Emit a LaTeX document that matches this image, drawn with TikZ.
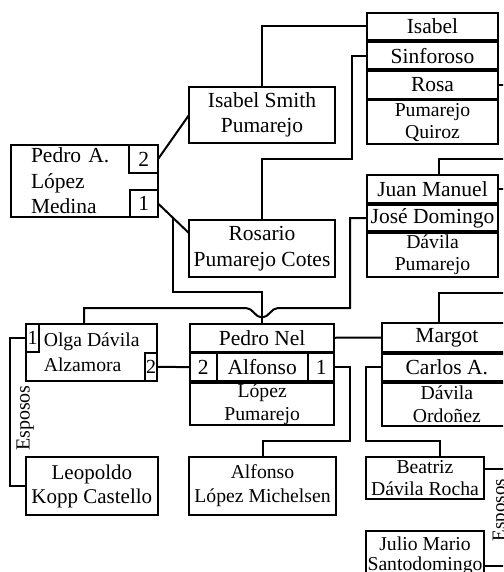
\documentclass[tikz,border=0pt]{standalone}
\usepackage{fontspec}
\setmainfont{Liberation Serif}
\usetikzlibrary{calc}
\newcommand\bigtxt{\fontsize{21.5}{25.5}\selectfont}
\newcommand\smalltxt{\fontsize{19.7}{22}\selectfont}

\begin{document}
\begin{tikzpicture}[x=1pt,y=-1pt,
  box/.style={draw, line width=2pt, inner sep=0pt, outer sep=0pt,
              anchor=north west, align=center, font=\bigtxt},
  sbox/.style={box, font=\smalltxt},
  conn/.style={line width=2pt},
  esp/.style={rotate=90, anchor=base, inner sep=0pt}]

\useasboundingbox (0,0) rectangle (503,572);
\fill[white] (0,0) rectangle (503,572);
\clip (0,0) rectangle (503,572);

% --- Pedro A. Lopez and his two wives
\node[box, minimum width=147pt, minimum height=72pt, text width=107pt,
      inner xsep=20pt, align=left] (pa) at (11,145) {Pedro A.\\López\\Medina};
\node[box, minimum width=28.7pt, minimum height=28.3pt] (pa2) at (129.3,145) {2};
\node[box, minimum width=28.3pt, minimum height=27pt] (pa1) at (129.7,190) {1};
\node[box, minimum width=146pt, minimum height=56pt] (ism) at (189,87) {Isabel Smith\\Pumarejo};
\node[box, minimum width=146pt, minimum height=57pt] (ros) at (189,220) {Rosario\\Pumarejo Cotes};

% --- Pumarejo Quiroz siblings
\node[box, minimum width=131.6pt, minimum height=27.5pt] (isa) at (366.7,12.7) {Isabel};
\node[box, minimum width=131.6pt, minimum height=27.9pt] (sin) at (366.7,41.6) {Sinforoso};
\node[box, minimum width=131.6pt, minimum height=27.7pt] (rosa) at (366.7,71) {Rosa};
\node[sbox, minimum width=131.6pt, minimum height=43.8pt] (pq) at (366.7,100.2) {Pumarejo\\Quiroz};

% --- Davila Pumarejo siblings
\node[box, minimum width=131.6pt, minimum height=28pt] (jm) at (366.7,175) {Juan Manuel};
\node[box, minimum width=131.6pt, minimum height=26.6pt] (jd) at (366.7,204.7) {José Domingo};
\node[sbox, minimum width=131.6pt, minimum height=44.3pt] (dp) at (366.7,233) {Dávila\\Pumarejo};

% --- Lopez Pumarejo siblings
\node[box, minimum width=144.3pt, minimum height=27.5pt] (pn) at (190,324) {Pedro Nel};
\node[box, minimum width=144.3pt, minimum height=27.8pt] (alf) at (190,353.2) {Alfonso};
\node[box, minimum width=26.7pt, minimum height=27.8pt] (a2) at (190,353.2) {2};
\node[box, minimum width=26pt, minimum height=27.8pt] (a1) at (308.3,353.2) {1};
\node[sbox, minimum width=144.3pt, minimum height=42.3pt, font=\fontsize{19.7}{23}\selectfont]
     (lp) at (190,382.7) {López\\Pumarejo};

% --- Davila Ordonez siblings
\node[box, minimum width=130.3pt, minimum height=28.7pt] (mg) at (381.7,323.3) {Margot};
\node[box, minimum width=130.3pt, minimum height=27.5pt] (ca) at (381.7,353.7) {Carlos A.};
\node[sbox, minimum width=130.3pt, minimum height=43.1pt, font=\fontsize{19.7}{23}\selectfont]
     (dor) at (381.7,382.9) {Dávila\\Ordoñez};

% --- Olga Davila and her husbands
\node[sbox, minimum width=131.3pt, minimum height=57pt, align=left,
      font=\fontsize{19.7}{25}\selectfont] (olga) at (26,324) {Olga Dávila\\Alzamora};
\node[box, minimum width=13.3pt, minimum height=28.3pt, font=\fontsize{20}{24}\selectfont]
     (o1) at (26,324) {1};
\node[box, minimum width=12.3pt, minimum height=28.3pt, font=\fontsize{20}{24}\selectfont]
     (o2) at (145,352.7) {2};
\node[box, minimum width=131.7pt, minimum height=57.7pt, font=\fontsize{21}{24.3}\selectfont]
     (leo) at (26,457.3) {Leopoldo\\Kopp Castello};

% --- next generation
\node[sbox, minimum width=147pt, minimum height=57.7pt, font=\fontsize{19.7}{24}\selectfont]
     (alm) at (189,457.3) {Alfonso\\López Michelsen};
\node[sbox, minimum width=118pt, minimum height=42pt] (bea) at (366,457.3) {Beatriz\\Dávila Rocha};
\node[sbox, minimum width=118pt, minimum height=50pt, font=\fontsize{19.7}{20}\selectfont]
     (jul) at (366,530.7) {Julio Mario\\Santodomingo};

\node[esp, font=\fontsize{20}{24}\selectfont] (esp1) at (29.5,418) {Esposos};
\node[esp, font=\fontsize{19}{23}\selectfont] (esp2) at (505,510) {Esposos};

% --- connectors
\coordinate (rosin) at ($(ros.north west)!0.23!(ros.south west)$);
\draw[conn] (pa2.east) -- (ism.west);
\draw[conn] (pa1.east) -- (rosin);
\coordinate (m1) at ($(pa1.east)!0.47!(rosin)$);
\draw[conn] (m1) |- ([yshift=32pt]pn.north) -- (pn.north);

\draw[conn] (isa.west) -| (ism.north);
\draw[conn] (sin.west) -- ++(-15,0) |- ([yshift=60.7pt]ros.north) -- (ros.north);

\coordinate (olgatop) at ($(olga.north west)+(58,0)$);
\draw[conn] (jd.west) -- ++(-16.7,0) |- (278,308)
   .. controls (271,308) and (269,317.5) .. (262,317.5)
   .. controls (255,317.5) and (253,308) .. (246,308) -| (olgatop);

\draw[conn] (pn.east) -- (mg.west);
\draw[conn] (o2.east) -- (a2.west);
\draw[conn] (o1.west) -- ++(-16,0) |- (leo.west);
\draw[conn] (a1.east) -- ++(16,0) |- ([yshift=16.3pt]alm.north) -- (alm.north);

\coordinate (beatop) at ($(bea.north west)+(74,0)$);
\draw[conn] (ca.west) -- ++(-15.7,0) |- ([yshift=16.3pt]beatop) -- (beatop);

\draw[conn] (rosa.east) -- ++(12,0);
\draw[conn] (jm.east) -- ++(12,0);
\coordinate (jmtop) at ($(jm.north west)+(72.6,0)$);
\draw[conn] (jmtop) -- ++(0,-15.7) -- ++(70,0);
\coordinate (mgtop) at ($(mg.north west)+(57.6,0)$);
\draw[conn] (mgtop) -- ++(0,-30.6) -- ++(80,0);
\coordinate (beaout) at ($(bea.north east)+(0,12)$);
\draw[conn] (beaout) -- ++(25,0);
\coordinate (julout) at ($(jul.north east)+(0,35.3)$);
\draw[conn] (julout) -- ++(25,0);

\end{tikzpicture}
\end{document}
